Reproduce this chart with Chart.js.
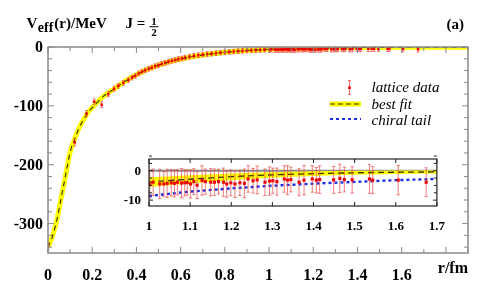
<!DOCTYPE html>
<html>
<head>
<meta charset="utf-8">
<script src="https://cdn.jsdelivr.net/npm/chart.js@4"></script>
<style>
body { margin: 0; background: #fff; }
#wrap { position: relative; width: 497px; height: 286px; }
#chart { position: absolute; left: 0; top: 0; }
#inset { position: absolute; left: 120px; top: 150px; }
</style>
</head>
<body>
<div id="wrap">
<canvas id="chart" width="497" height="286"></canvas>
<canvas id="inset" width="330" height="80"></canvas>
</div>
<script>
// lattice data: r in fm, V in MeV, error in MeV
var latticeR = [0, 0.121, 0.174, 0.209, 0.243, 0.273, 0.299, 0.318, 0.341, 0.364, 0.380, 0.395, 0.410, 0.425, 0.440, 0.455, 0.470, 0.485, 0.500, 0.515, 0.530, 0.545, 0.560, 0.575, 0.590, 0.605, 0.620, 0.640, 0.660, 0.680, 0.700, 0.720, 0.740, 0.760, 0.780, 0.800, 0.820, 0.840, 0.860, 0.880, 0.900, 0.920, 0.940, 0.960, 0.980,
  1.002, 1.010, 1.026, 1.036, 1.044, 1.054, 1.062, 1.069, 1.079, 1.087, 1.093, 1.101, 1.109, 1.117, 1.129, 1.137, 1.150, 1.159, 1.169, 1.181, 1.189, 1.199, 1.209, 1.221, 1.232, 1.241, 1.253, 1.263, 1.282, 1.293, 1.301, 1.311, 1.329, 1.337, 1.345, 1.365, 1.377, 1.397, 1.407, 1.415, 1.449, 1.464, 1.475, 1.494, 1.536, 1.544, 1.606, 1.674];
var latticeV = [-338, -162, -113, -93, -98, -80, -71, -66, -61, -56, -52, -49, -45, -42, -39.5, -37, -35, -32.5, -31, -28.5, -27, -25, -23.5, -22, -20.5, -19.5, -18, -16.5, -15, -14, -13, -12, -11.3, -10.5, -9.6, -9, -8.3, -7.8, -7, -6.6, -6, -5.7, -5.2, -4.9, -4.5,
  -4.5, -3.9, -4.5, -4.5, -4.3, -4.1, -4.3, -3.9, -4.2, -4.1, -4.0, -4.5, -3.7, -4.9, -3.3, -3.7, -3.9, -3.9, -3.7, -3.9, -4.5, -4.1, -4.5, -4.1, -4.3, -2.8, -3.4, -3.1, -3.9, -3.5, -3.4, -3.7, -2.8, -3.2, -3.0, -3.9, -3.2, -2.8, -3.2, -3.0, -3.1, -2.6, -3.0, -3.1, -2.8, -3.2, -3.2, -3.9];
var latticeErr = [4, 6, 5, 5, 5, 4.5, 4.5, 4, 4, 4, 4, 4, 4, 4, 4, 4, 4, 4, 4, 4, 4, 4, 4, 4, 4, 4, 4, 4, 4, 4, 4, 4, 4, 4, 4, 4, 4, 4, 4, 4, 4, 4, 4, 4, 4,
  4.7, 4.5, 5.0, 4.2, 4.8, 4.5, 4.6, 4.3, 5.0, 4.5, 4.2, 4.8, 4.4, 4.6, 5.0, 4.3, 4.7, 4.5, 4.2, 4.8, 4.5, 4.4, 4.6, 4.3, 4.9, 4.5, 4.2, 4.7, 4.5, 4.8, 4.3, 4.6, 4.5, 4.9, 4.2, 4.6, 5.0, 4.5, 4.3, 4.7, 4.6, 4.8, 4.2, 4.5, 4.9, 4.6, 5.0, 4.9];

// best fit curve and its error band
var fitR = [0, 0.02, 0.04, 0.06, 0.08, 0.10, 0.12, 0.14, 0.16, 0.18, 0.20, 0.22, 0.25, 0.30, 0.35, 0.40, 0.45, 0.50, 0.55, 0.60, 0.65, 0.70, 0.75, 0.80, 0.85, 0.90, 0.95, 1.0, 1.1, 1.2, 1.3, 1.4, 1.5, 1.6, 1.7, 1.8, 1.9];
var fitV = [-340, -322, -294, -256, -217, -179, -157, -138, -124, -112, -103, -95, -84, -71, -58, -47, -38, -31, -25, -20.5, -16.5, -13.5, -11, -9, -7.3, -6, -4.9, -3.9, -2.9, -2.0, -1.4, -1.0, -0.7, -0.5, -0.4, -0.3, -0.25];
var bandR = [1.0, 1.1, 1.2, 1.3, 1.4, 1.5, 1.6, 1.7];
var bandHi = [-2.2, -1.5, -0.9, -0.5, -0.2, 0.0, 0.1, 0.2];
var bandLo = [-5.5, -4.3, -3.2, -2.4, -1.8, -1.4, -1.1, -0.9];

// chiral tail
var chiralR = [1.0, 1.1, 1.2, 1.3, 1.4, 1.5, 1.6, 1.7];
var chiralV = [-8.6, -7.1, -6.0, -5.1, -4.4, -3.8, -3.2, -2.8];

// tick labels
var mainXTicks = [0, 0.2, 0.4, 0.6, 0.8, 1, 1.2, 1.4, 1.6];
var mainYTicks = [0, -100, -200, -300];
var insetXTicks = [1, 1.1, 1.2, 1.3, 1.4, 1.5, 1.6, 1.7];
var insetYTicks = [0, -10];

var serif = 'Liberation Serif';

function pts(xs, ys) {
  return xs.map(function(x, i) { return {x: x, y: ys[i]}; });
}

function pickLabel(list) {
  return function(v) {
    for (var i = 0; i < list.length; i++) {
      if (Math.abs(list[i] - v) < 1e-6) return String(list[i]);
    }
    return '';
  };
}

var errorBars = {
  id: 'errorBars',
  beforeDatasetDraw: function(chart, args) {
    var ds = chart.data.datasets[args.index];
    if (!ds.errors) return;
    var ctx = chart.ctx, a = chart.chartArea, xs = chart.scales.x, ys = chart.scales.y;
    ctx.save();
    ctx.beginPath();
    ctx.rect(a.left, a.top, a.right - a.left, a.bottom - a.top);
    ctx.clip();
    ctx.strokeStyle = 'rgba(240,70,70,0.7)';
    ctx.lineWidth = 1;
    var cap = ds.capWidth;
    ds.data.forEach(function(p, i) {
      var px = xs.getPixelForValue(p.x);
      var y1 = ys.getPixelForValue(p.y + ds.errors[i]);
      var y2 = ys.getPixelForValue(p.y - ds.errors[i]);
      ctx.beginPath();
      ctx.moveTo(px, y1); ctx.lineTo(px, y2);
      ctx.moveTo(px - cap, y1); ctx.lineTo(px + cap, y1);
      ctx.moveTo(px - cap, y2); ctx.lineTo(px + cap, y2);
      ctx.stroke();
    });
    ctx.restore();
  }
};

var frameTicks = {
  id: 'frameTicks',
  beforeDraw: function(chart, args, o) {
    var ctx = chart.ctx, a = chart.chartArea;
    ctx.save();
    ctx.fillStyle = '#fff';
    ctx.fillRect(a.left, a.top, a.right - a.left, a.bottom - a.top);
    ctx.restore();
  },
  beforeDatasetsDraw: function(chart, args, o) {
    if (!o.zeroLine) return;
    var ctx = chart.ctx, a = chart.chartArea;
    var py = chart.scales.y.getPixelForValue(0);
    ctx.save();
    ctx.strokeStyle = '#888';
    ctx.lineWidth = 2;
    ctx.beginPath();
    ctx.moveTo(a.left, py); ctx.lineTo(a.right, py);
    ctx.stroke();
    ctx.restore();
  },
  afterDatasetsDraw: function(chart, args, o) {
    var ctx = chart.ctx, a = chart.chartArea, xs = chart.scales.x, ys = chart.scales.y;
    ctx.save();
    ctx.strokeStyle = o.color;
    ctx.lineWidth = 1;
    ctx.beginPath();
    o.xTicks.forEach(function(t) {
      var px = xs.getPixelForValue(t.v);
      var len = t.major ? o.major : o.minor;
      ctx.moveTo(px, a.bottom); ctx.lineTo(px, a.bottom - len);
      ctx.moveTo(px, a.top); ctx.lineTo(px, a.top + len);
    });
    o.yTicks.forEach(function(t) {
      var py = ys.getPixelForValue(t.v);
      var len = t.major ? o.major : o.minor;
      ctx.moveTo(a.left, py); ctx.lineTo(a.left + len, py);
      ctx.moveTo(a.right, py); ctx.lineTo(a.right - len, py);
    });
    ctx.stroke();
    ctx.lineWidth = o.width;
    ctx.strokeRect(a.left, a.top, a.right - a.left, a.bottom - a.top);
    if (o.yLabels) {
      ctx.fillStyle = '#000';
      ctx.font = o.labelFont;
      ctx.textAlign = 'right';
      ctx.textBaseline = 'middle';
      o.yLabels.forEach(function(v) {
        ctx.fillText(String(v), a.left - o.labelGap, ys.getPixelForValue(v) + 1);
      });
    }
    ctx.restore();
  }
};

var texts = {
  id: 'texts',
  afterDraw: function(chart) {
    var ctx = chart.ctx, a = chart.chartArea;
    ctx.save();
    ctx.fillStyle = '#000';
    ctx.textBaseline = 'alphabetic';
    ctx.textAlign = 'left';
    // title
    var x = 26.5;
    ctx.font = 'bold 15px ' + serif;
    ctx.fillText('V', x, 28.3);
    x += ctx.measureText('V').width;
    ctx.font = 'bold 14px ' + serif;
    ctx.fillText('eff', x + 0.5, 32);
    x += ctx.measureText('eff').width + 1.5;
    ctx.font = 'bold 15px ' + serif;
    ctx.fillText('(r)/MeV', x, 28.3);
    ctx.fillText('J =', 125.5, 28.3);
    ctx.font = 'bold 11px ' + serif;
    ctx.textAlign = 'center';
    ctx.fillText('1', 154, 25);
    ctx.fillText('2', 154, 35.5);
    ctx.fillRect(149.5, 26.2, 9, 1);
    ctx.font = 'bold 15px ' + serif;
    ctx.textAlign = 'right';
    ctx.fillText('(a)', 464, 29);
    ctx.font = 'bold 16px ' + serif;
    ctx.fillText('r/fm', a.right, 273.3);

    // legend
    ctx.textAlign = 'left';
    ctx.font = 'italic 15px ' + serif;
    ctx.fillText('lattice data', 371.5, 92);
    ctx.fillText('best fit', 371.5, 108.5);
    ctx.fillText('chiral tail', 371.5, 125);

    ctx.strokeStyle = 'rgba(240,70,70,0.8)';
    ctx.lineWidth = 1;
    ctx.beginPath();
    ctx.moveTo(349.5, 80.5); ctx.lineTo(349.5, 94.5);
    ctx.moveTo(348, 80.5); ctx.lineTo(351, 80.5);
    ctx.moveTo(348, 94.5); ctx.lineTo(351, 94.5);
    ctx.stroke();
    ctx.fillStyle = '#ee0000';
    ctx.fillRect(348.2, 86.4, 2.6, 2.6);

    ctx.fillStyle = '#ffff00';
    ctx.fillRect(330, 101.5, 31, 5);
    ctx.strokeStyle = '#303000';
    ctx.setLineDash([5, 3]);
    ctx.lineWidth = 1.2;
    ctx.beginPath();
    ctx.moveTo(330, 104); ctx.lineTo(361, 104);
    ctx.stroke();

    ctx.strokeStyle = '#1a2ee6';
    ctx.setLineDash([3, 3]);
    ctx.lineWidth = 2.2;
    ctx.beginPath();
    ctx.moveTo(330, 119); ctx.lineTo(361, 119);
    ctx.stroke();
    ctx.restore();
  }
};

function tickList(n, start, step, majorEvery) {
  var out = [];
  for (var i = 0; i <= n; i++) out.push({v: start + i * step, major: i % majorEvery === 0});
  return out;
}

var mainXT = tickList(19, 0, 0.1, 2);
var mainYT = tickList(17, -340, 20, 100);
mainYT.forEach(function(t) { t.major = Math.round(t.v) % 100 === 0; });

new Chart(document.getElementById('chart'), {
  type: 'scatter',
  data: {
    datasets: [
      { data: pts(latticeR, latticeV), errors: latticeErr, capWidth: 1.5, pointStyle: 'rect', pointRadius: 1.8,
        backgroundColor: '#ee0000', borderWidth: 0 },
      { data: pts(fitR, fitV), showLine: true, borderColor: '#303000', borderWidth: 1.1, borderDash: [5, 4],
        pointRadius: 0, cubicInterpolationMode: 'monotone' },
      { data: pts(fitR, fitV), showLine: true, borderColor: '#ffff00', borderWidth: 5,
        pointRadius: 0, cubicInterpolationMode: 'monotone' }
    ]
  },
  options: {
    responsive: false,
    animation: false,
    layout: { padding: { top: 47, right: 29, left: 0, bottom: 0 } },
    plugins: {
      legend: { display: false },
      tooltip: { enabled: false },
      frameTicks: { color: '#888', width: 1.5, major: 6, minor: 4, xTicks: mainXT, yTicks: mainYT,
        yLabels: mainYTicks, labelGap: 5, labelFont: 'bold 16px ' + serif }
    },
    scales: {
      x: {
        type: 'linear', min: 0, max: 1.9,
        grid: { display: false }, border: { display: false },
        ticks: { stepSize: 0.2, autoSkip: false, maxRotation: 0, padding: 5, color: '#000',
          font: { family: serif, size: 16, weight: 'bold' }, callback: pickLabel(mainXTicks) },
        afterFit: function(s) { s.height = 33; }
      },
      y: {
        type: 'linear', min: -350, max: 0,
        grid: { display: false }, border: { display: false },
        ticks: { display: false, stepSize: 100 },
        afterFit: function(s) { s.width = 48; }
      }
    }
  },
  plugins: [frameTicks, errorBars, texts]
});

var insetXT = tickList(7, 1, 0.1, 1);
var insetYT = tickList(6, -10, 2.5, 4);

new Chart(document.getElementById('inset'), {
  type: 'scatter',
  data: {
    datasets: [
      { data: pts(latticeR, latticeV), errors: latticeErr, capWidth: 1.7, pointStyle: 'rect', pointRadius: 2.2,
        backgroundColor: '#ee0000', borderWidth: 0, clip: 0 },
      { data: pts(chiralR, chiralV), showLine: true, borderColor: '#1a2ee6', borderWidth: 2.4, borderDash: [3, 3],
        pointRadius: 0, clip: 0 },
      { data: pts(fitR, fitV), showLine: true, borderColor: '#303000', borderWidth: 1.3, borderDash: [6, 4],
        pointRadius: 0, cubicInterpolationMode: 'monotone', clip: 0 },
      { data: pts(bandR, bandHi), showLine: true, borderWidth: 0, borderColor: 'rgba(0,0,0,0)',
        pointRadius: 0, fill: false, cubicInterpolationMode: 'monotone', clip: 0 },
      { data: pts(bandR, bandLo), showLine: true, borderWidth: 0, borderColor: 'rgba(0,0,0,0)',
        backgroundColor: '#ffff00', pointRadius: 0, fill: '-1', cubicInterpolationMode: 'monotone', clip: 0 }
    ]
  },
  options: {
    responsive: false,
    animation: false,
    layout: { padding: { top: 9, right: 8, left: 0, bottom: 0 } },
    plugins: {
      legend: { display: false },
      tooltip: { enabled: false },
      filler: { propagate: false },
      frameTicks: { color: '#222', width: 1.2, major: 4, minor: 3, xTicks: insetXT, yTicks: insetYT, zeroLine: true,
        yLabels: insetYTicks, labelGap: 8, labelFont: 'bold 13px ' + serif }
    },
    scales: {
      x: {
        type: 'linear', min: 1, max: 1.7,
        grid: { display: false }, border: { display: false },
        ticks: { stepSize: 0.1, autoSkip: false, maxRotation: 0, padding: 5, color: '#000',
          font: { family: serif, size: 13, weight: 'bold' }, callback: pickLabel(insetXTicks) },
        afterFit: function(s) { s.height = 24; }
      },
      y: {
        type: 'linear', min: -12, max: 4,
        grid: { display: false }, border: { display: false },
        ticks: { display: false, stepSize: 2 },
        afterFit: function(s) { s.width = 29; }
      }
    }
  },
  plugins: [frameTicks, errorBars]
});
</script>
</body>
</html>
